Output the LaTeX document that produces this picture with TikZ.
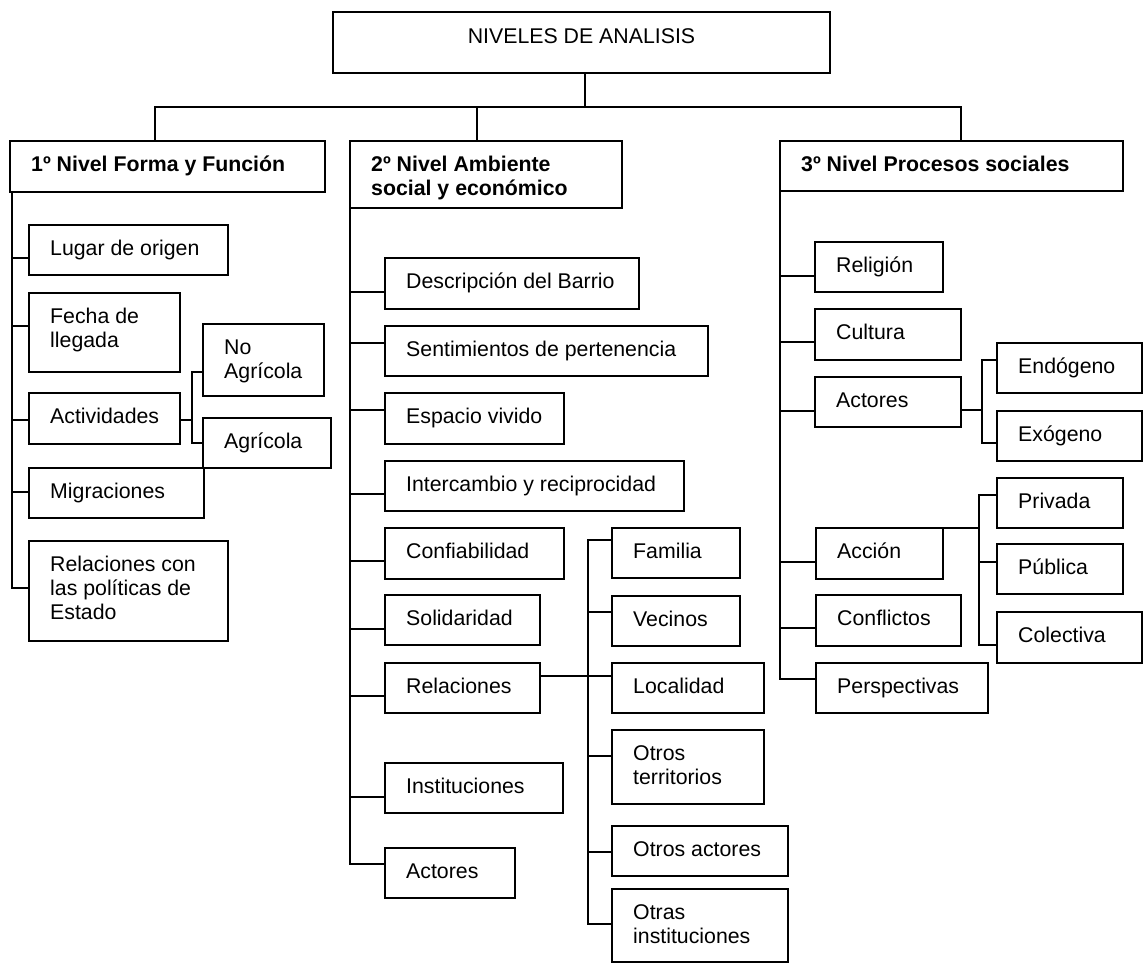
\documentclass[tikz,border=0pt]{standalone}
\usepackage{fontspec}
\setmainfont{Liberation Sans}
\newcommand\mybox[7][txtst]{%
  \node[boxst, anchor=north west, minimum width={(#5-#3)*1pt}, minimum height={(#6-#4)*1pt}] (#2) at (#3,#4) {};
  \node[#1, anchor=north west] (#2t) at (#3+21,#4+12) {\rule{0pt}{18pt}#7};
}
\newcommand\lnk[3]{\draw[conn] (#1 |- 0,#3) -- (#2.west |- 0,#3);}
\begin{document}
\begin{tikzpicture}[x=1pt,y=-1pt,
  boxst/.style={draw, rectangle, line width=2pt, inner sep=0pt, outer sep=0pt},
  txtst/.style={inner sep=0pt, align=left, font=\fontsize{21.3}{24}\selectfont},
  boldtxt/.style={inner sep=0pt, align=left, font=\fontsize{21.3}{24}\selectfont\bfseries},
  conn/.style={line width=2pt, line cap=rect}]
\useasboundingbox (0,0) rectangle (1146,967);

% top
\node[boxst, anchor=north west, minimum width=497pt, minimum height=61pt] (top) at (333,12) {};
\node[txtst, anchor=north] (topt) at (581.5,25) {\rule{0pt}{18pt}NIVELES DE ANALISIS};

% levels
\mybox[boldtxt]{L1}{10}{141}{325}{192}{1º Nivel Forma y Función}
\mybox[boldtxt]{L2}{350}{141}{622}{208}{2º Nivel Ambiente\\social y económico}
\mybox[boldtxt]{L3}{780}{141}{1123}{191}{3º Nivel Procesos sociales}

\coordinate (hL) at (155,107);
\coordinate (hM) at (477,107);
\coordinate (hR) at (961,107);
\coordinate (hT) at (585,107);
\draw[conn] (top.south -| hT) -- (hT);
\draw[conn] (hL) -- (hR);
\draw[conn] (hL) -- (L1.north -| hL);
\draw[conn] (hM) -- (L2.north -| hM);
\draw[conn] (hR) -- (L3.north -| hR);

% level 1
\mybox{lug}{29}{225}{228}{275}{Lugar de origen}
\mybox{fec}{29}{293}{180}{372}{Fecha de\\llegada}
\mybox{act}{29}{393}{180}{444}{Actividades}
\mybox{noa}{203}{324}{324}{396}{No\\Agrícola}
\mybox{agr}{203}{418}{331}{468}{Agrícola}
\mybox{mig}{29}{468}{204}{518}{Migraciones}
\mybox{rpe}{29}{541}{228}{641}{Relaciones con\\las políticas de\\Estado}

\coordinate (T1a) at (12,192);
\coordinate (T1b) at (12,588);
\draw[conn] (L1.south -| T1a) -- (T1b);
\lnk{T1a}{lug}{258}
\lnk{T1a}{fec}{326}
\lnk{T1a}{act}{420}
\lnk{T1a}{mig}{492}
\lnk{T1a}{rpe}{588}

\coordinate (S1a) at (192,372);
\coordinate (S1b) at (192,443);
\draw[conn] (S1a) -- (S1b);
\draw[conn] (act.east |- 0,420) -- (S1a |- 0,420);
\lnk{S1a}{noa}{372}
\lnk{S1a}{agr}{443}

% level 2
\mybox{des}{385}{258}{639}{309}{Descripción del Barrio}
\mybox{sen}{385}{326}{708}{376}{Sentimientos de pertenencia}
\mybox{esp}{385}{393}{564}{444}{Espacio vivido}
\mybox{inr}{385}{461}{684}{511}{Intercambio y reciprocidad}
\mybox{cnb}{385}{528}{564}{579}{Confiabilidad}
\mybox{sol}{385}{595}{540}{645}{Solidaridad}
\mybox{rls}{385}{663}{540}{713}{Relaciones}
\mybox{ins}{385}{763}{563}{813}{Instituciones}
\mybox{act2}{385}{848}{515}{898}{Actores}

\coordinate (T2a) at (350,208);
\coordinate (T2b) at (350,864);
\draw[conn] (L2.south -| T2a) -- (T2b);
\lnk{T2a}{des}{292}
\lnk{T2a}{sen}{343}
\lnk{T2a}{esp}{410}
\lnk{T2a}{inr}{494}
\lnk{T2a}{cnb}{561}
\lnk{T2a}{sol}{629}
\lnk{T2a}{rls}{696}
\lnk{T2a}{ins}{797}
\lnk{T2a}{act2}{864}

\mybox{fam}{612}{528}{740}{578}{Familia}
\mybox{vec}{612}{596}{740}{646}{Vecinos}
\mybox{loc}{612}{663}{764}{713}{Localidad}
\mybox{otr}{612}{730}{764}{804}{Otros\\territorios}
\mybox{ota}{612}{826}{788}{876}{Otros actores}
\mybox{oti}{612}{889}{788}{962}{Otras\\instituciones}

\coordinate (S2a) at (588,540);
\coordinate (S2b) at (588,924);
\draw[conn] (S2a) -- (S2b);
\draw[conn] (rls.east |- 0,676) -- (S2a |- 0,676);
\lnk{S2a}{fam}{540}
\lnk{S2a}{vec}{612}
\lnk{S2a}{loc}{676}
\lnk{S2a}{otr}{756}
\lnk{S2a}{ota}{852}
\lnk{S2a}{oti}{924}

% level 3
\mybox{reli}{815}{242}{943}{292}{Religión}
\mybox{cul}{815}{309}{961}{360}{Cultura}
\mybox{act3}{815}{377}{961}{427}{Actores}
\mybox{endo}{997}{343}{1142}{393}{Endógeno}
\mybox{exo}{997}{411}{1142}{461}{Exógeno}
\mybox{acc}{816}{528}{943}{579}{Acción}
\mybox{pri}{997}{478}{1123}{528}{Privada}
\mybox{pub}{997}{544}{1123}{594}{Pública}
\mybox{col}{997}{612}{1142}{663}{Colectiva}
\mybox{cnf}{816}{595}{961}{646}{Conflictos}
\mybox{per}{816}{663}{988}{713}{Perspectivas}

\coordinate (T3a) at (780,191);
\coordinate (T3b) at (780,679);
\draw[conn] (L3.south -| T3a) -- (T3b);
\lnk{T3a}{reli}{276}
\lnk{T3a}{cul}{342}
\lnk{T3a}{act3}{411}
\lnk{T3a}{acc}{562}
\lnk{T3a}{cnf}{628}
\lnk{T3a}{per}{679}

\coordinate (S3a) at (982,360);
\coordinate (S3b) at (982,443);
\draw[conn] (S3a) -- (S3b);
\draw[conn] (act3.east |- 0,410) -- (S3a |- 0,410);
\lnk{S3a}{endo}{360}
\lnk{S3a}{exo}{443}

\coordinate (S4a) at (979,495);
\coordinate (S4b) at (979,645);
\draw[conn] (S4a) -- (S4b);
\draw[conn] (acc.north east) -- (S4a |- acc.north east);
\lnk{S4a}{pri}{495}
\lnk{S4a}{pub}{562}
\lnk{S4a}{col}{645}
\end{tikzpicture}
\end{document}
